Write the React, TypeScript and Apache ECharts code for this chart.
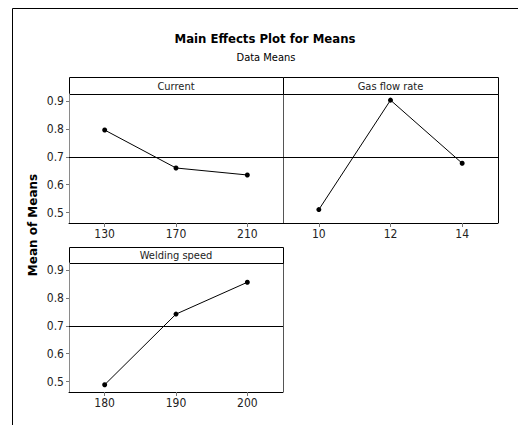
import React, { useEffect, useRef } from "react";
import * as echarts from "echarts";

const currentLevels = [130, 170, 210];
const currentMeans = [0.796, 0.66, 0.635];
const gasLevels = [10, 12, 14];
const gasMeans = [0.511, 0.903, 0.677];
const speedLevels = [180, 190, 200];
const speedMeans = [0.489, 0.742, 0.856];
const grandMean = 0.696;
const yTicks = [0.5, 0.6, 0.7, 0.8, 0.9];
const panelTitles = ["Current", "Gas flow rate", "Welding speed"];

const FONT = "'DejaVu Sans Condensed', 'Liberation Sans Narrow', sans-serif";

export default function App() {
  const ref = useRef<HTMLDivElement>(null);
  useEffect(() => {
    document.body.style.margin = "0";
    const chart = echarts.init(ref.current!, null, { renderer: "svg" });
    const grids = [
      { left: 69, top: 94, width: 214, height: 129 },
      { left: 283, top: 94, width: 215, height: 129 },
      { left: 69, top: 263, width: 214, height: 129 },
    ];
    const xRanges = [
      { min: 110, max: 230, ticks: currentLevels },
      { min: 9, max: 15, ticks: gasLevels },
      { min: 175, max: 205, ticks: speedLevels },
    ];
    const datasets = [
      [currentLevels, currentMeans],
      [gasLevels, gasMeans],
      [speedLevels, speedMeans],
    ];
    const xAxis = xRanges.map((r, i) => ({
      type: "value",
      gridIndex: i,
      min: r.min,
      max: r.max,
      splitLine: { show: false },
      axisLine: { show: true, lineStyle: { color: "#000", width: 1 } },
      axisTick: { show: true, customValues: r.ticks, length: 4, lineStyle: { color: "#777" } },
      axisLabel: {
        customValues: r.ticks,
        color: "#222",
        fontSize: 12,
        fontFamily: FONT,
        margin: 5,
      },
    }));
    const yAxis = [0, 1, 2].map((i) => ({
      type: "value",
      gridIndex: i,
      min: 0.463,
      max: 0.925,
      splitLine: { show: false },
      axisLine: { show: i !== 1, lineStyle: { color: "#8a8a8a", width: 1 } },
      axisTick: { show: i !== 1, customValues: yTicks, length: 3, lineStyle: { color: "#777" } },
      axisLabel: {
        show: i !== 1,
        customValues: yTicks,
        color: "#222",
        fontSize: 12,
        fontFamily: FONT,
        margin: 5,
        formatter: (v: number) => v.toFixed(1),
      },
    }));
    const series = datasets.map(([xs, ys], i) => ({
      type: "line",
      xAxisIndex: i,
      yAxisIndex: i,
      data: xs.map((x, j) => [x, ys[j]]),
      symbol: "circle",
      symbolSize: 5,
      lineStyle: { color: "#000", width: 1 },
      itemStyle: { color: "#000" },
      markLine: {
        silent: true,
        symbol: "none",
        label: { show: false },
        lineStyle: { color: "#000", width: 1, type: "solid" },
        data: [{ yAxis: grandMean }],
      },
    }));
    const headers = [
      { x: 69, y: 77, w: 214, h: 17 },
      { x: 283, y: 77, w: 215, h: 17 },
      { x: 69, y: 247, w: 214, h: 16 },
    ];
    const graphic: any[] = [
      { type: "line", shape: { x1: 12.5, y1: 8.5, x2: 518, y2: 8.5 }, style: { stroke: "#000", lineWidth: 1 } },
      { type: "line", shape: { x1: 12.5, y1: 8.5, x2: 12.5, y2: 425 }, style: { stroke: "#000", lineWidth: 1 } },
      {
        type: "text",
        x: 265,
        y: 38,
        style: { text: "Main Effects Plot for Means", font: `bold 13px ${FONT}`, fill: "#000", textAlign: "center", textVerticalAlign: "middle" },
      },
      {
        type: "text",
        x: 266,
        y: 57,
        style: { text: "Data Means", font: `11px ${FONT}`, fill: "#000", textAlign: "center", textVerticalAlign: "middle" },
      },
      {
        type: "text",
        x: 33,
        y: 225,
        rotation: Math.PI / 2,
        style: { text: "Mean of Means", font: `bold 12px 'DejaVu Sans', sans-serif`, fill: "#000", textAlign: "center", textVerticalAlign: "middle" },
      },
      { type: "line", shape: { x1: 283.5, y1: 94, x2: 283.5, y2: 223 }, style: { stroke: "#555", lineWidth: 1 } },
      { type: "line", shape: { x1: 498.5, y1: 94, x2: 498.5, y2: 223 }, style: { stroke: "#000", lineWidth: 1 } },
      { type: "line", shape: { x1: 283.5, y1: 263, x2: 283.5, y2: 392 }, style: { stroke: "#555", lineWidth: 1 } },
    ];
    headers.forEach((h, i) => {
      graphic.push({
        type: "rect",
        shape: { x: h.x + 0.5, y: h.y + 0.5, width: h.w, height: h.h },
        style: { fill: "#fff", stroke: "#000", lineWidth: 1 },
      });
      graphic.push({
        type: "text",
        x: h.x + h.w / 2,
        y: h.y + h.h / 2 + 0.5,
        style: { text: panelTitles[i], font: `11px ${FONT}`, fill: "#222", textAlign: "center", textVerticalAlign: "middle" },
      });
    });
    chart.setOption({
      animation: false,
      backgroundColor: "#fff",
      grid: grids,
      xAxis,
      yAxis,
      series,
      graphic,
    });
    return () => chart.dispose();
  }, []);
  return <div ref={ref} style={{ width: 518, height: 425 }} />;
}
